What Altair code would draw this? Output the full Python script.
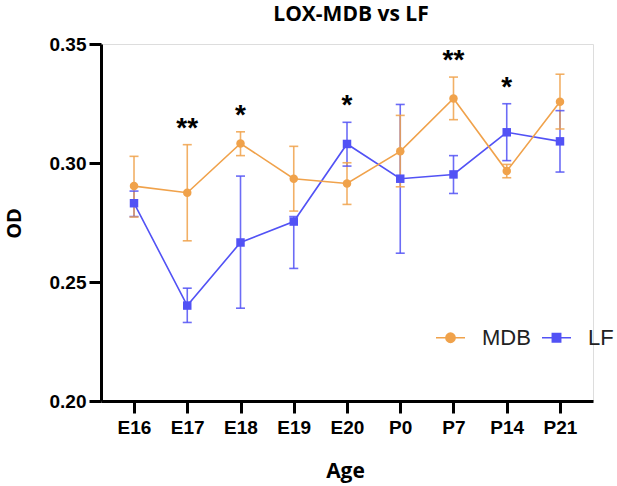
import altair as alt
import pandas as pd

ages = ["E16", "E17", "E18", "E19", "E20", "P0", "P7", "P14", "P21"]
mdb_mean = [0.2903, 0.2875, 0.3082, 0.2934, 0.2914, 0.3049, 0.3271, 0.2966, 0.3257]
mdb_upper = [0.3028, 0.3077, 0.3131, 0.3070, 0.3001, 0.3200, 0.3361, 0.2994, 0.3373]
mdb_lower = [0.2773, 0.2673, 0.3031, 0.2798, 0.2826, 0.2900, 0.3182, 0.2938, 0.3143]
lf_mean = [0.2831, 0.2401, 0.2666, 0.2754, 0.3080, 0.2934, 0.2952, 0.3129, 0.3091]
lf_upper = [0.2882, 0.2474, 0.2945, 0.2775, 0.3171, 0.3246, 0.3031, 0.3249, 0.3220]
lf_lower = [0.2775, 0.2330, 0.2390, 0.2557, 0.2987, 0.2621, 0.2872, 0.3010, 0.2962]

sig_ages = ["E17", "E18", "E20", "P7", "P14"]
sig_labels = ["**", "*", "*", "**", "*"]
sig_y = [0.3169, 0.3221, 0.3266, 0.3454, 0.3342]

series = ["MDB", "LF"]
ORANGE = "#F0A24B"
BLUE = "#5252F5"

rows = []
for s, m, u, l in [("LF", lf_mean, lf_upper, lf_lower), ("MDB", mdb_mean, mdb_upper, mdb_lower)]:
    for a, mv, uv, lv in zip(ages, m, u, l):
        rows.append({"age": a, "series": s, "mean": mv, "upper": uv, "lower": lv})
df = pd.DataFrame(rows)
sig_df = pd.DataFrame({"age": sig_ages, "label": sig_labels, "y": sig_y})

xscale = alt.Scale(type="point", domain=ages, padding=0.62)
yscale = alt.Scale(domain=[0.2, 0.35], nice=False, zero=False)
# colour scale for the data marks (domain order differs from the legend scales)
cscale = alt.Scale(domain=["LF", "MDB"], range=[BLUE, ORANGE])

MDB_PATH = "M-1,0L1,0M-0.32,0A0.32,0.32,0,1,0,0.32,0A0.32,0.32,0,1,0,-0.32,0Z"
LF_PATH = "M-1,0L1,0M-0.29,-0.29L0.29,-0.29L0.29,0.29L-0.29,0.29Z"

legend = alt.Legend(
    title=None,
    orient="none",
    direction="horizontal",
    legendX=334,
    legendY=278,
    symbolSize=841,
    symbolStrokeWidth=1.5,
    labelFont="Liberation Sans",
    labelFontSize=22,
    labelColor="#222222",
    labelOffset=16,
    columnPadding=8,
    padding=0,
)

x_enc = alt.X(
    "age:N",
    scale=xscale,
    sort=ages,
    axis=alt.Axis(
        title="Age",
        labelAngle=0,
        labelFont="Liberation Sans",
        labelFontWeight="bold",
        labelFontSize=19,
        labelColor="black",
        labelPadding=5,
        tickSize=12,
        tickWidth=3,
        tickColor="black",
        domainColor="black",
        domainWidth=3,
        titleFont="Open Sans",
        titleFontWeight="bold",
        titleFontSize=21,
        titleColor="black",
        titleBaseline="alphabetic",
        titleX=244,
        titleY=76,
        grid=False,
    ),
)
y_axis = alt.Axis(
    title="OD",
    values=[0.20, 0.25, 0.30, 0.35],
    format=".2f",
    labelFont="Liberation Sans",
    labelFontWeight="bold",
    labelFontSize=19,
    labelColor="black",
    labelPadding=3,
    tickSize=12,
    tickWidth=3,
    tickColor="black",
    domainColor="black",
    domainWidth=3,
    titleFont="Open Sans",
    titleFontWeight="bold",
    titleFontSize=20,
    titleColor="black",
    titleAngle=-90,
    titleBaseline="alphabetic",
    titleAlign="center",
    titleX=-81,
    titleY=179,
    grid=False,
)

base = alt.Chart(df)
color_enc = alt.Color("series:N", scale=cscale, legend=None)

lines = base.mark_line(strokeWidth=1.6).encode(
    x=x_enc,
    y=alt.Y("mean:Q", scale=yscale, axis=y_axis),
    color=color_enc,
    detail="series:N",
)
rules = base.mark_rule(strokeWidth=1.6, opacity=0.85).encode(
    x=alt.X("age:N", scale=xscale, sort=ages),
    y=alt.Y("lower:Q", scale=yscale),
    y2="upper:Q",
    color=color_enc,
)
cap_up = base.mark_tick(thickness=1.6, size=9, opacity=0.85, orient="horizontal").encode(
    x=alt.X("age:N", scale=xscale, sort=ages),
    y=alt.Y("upper:Q", scale=yscale),
    color=color_enc,
)
cap_lo = base.mark_tick(thickness=1.6, size=9, opacity=0.85, orient="horizontal").encode(
    x=alt.X("age:N", scale=xscale, sort=ages),
    y=alt.Y("lower:Q", scale=yscale),
    color=color_enc,
)
points = base.mark_point(filled=True, opacity=1, size=72).encode(
    x=alt.X("age:N", scale=xscale, sort=ages),
    y=alt.Y("mean:Q", scale=yscale),
    color=color_enc,
    shape=alt.condition(alt.datum.series == "MDB", alt.value("circle"), alt.value("square")),
)
legend_layer = base.transform_filter("false").mark_point(filled=True, opacity=1, strokeWidth=1.5).encode(
    x=alt.X("age:N", scale=xscale, sort=ages),
    y=alt.Y("mean:Q", scale=yscale),
    fill=alt.Fill("series:N", scale=alt.Scale(domain=series, range=[ORANGE, BLUE]), legend=legend),
    stroke=alt.Stroke("series:N", scale=alt.Scale(domain=series, range=[ORANGE, BLUE]), legend=legend),
    shape=alt.Shape("series:N", scale=alt.Scale(domain=series, range=[MDB_PATH, LF_PATH]), legend=legend),
)
stars = alt.Chart(sig_df).mark_text(
    font="Liberation Sans", fontWeight="bold", fontSize=28, baseline="middle", dy=6, color="black"
).encode(
    x=alt.X("age:N", scale=xscale, sort=ages),
    y=alt.Y("y:Q", scale=yscale),
    text="label:N",
)

chart = (
    alt.layer(lines, rules, cap_up, cap_lo, points, legend_layer, stars)
    .properties(
        width=492,
        height=357,
        autosize=alt.AutoSizeParams(type="none"),
        padding={"left": 101, "top": 44, "right": 24, "bottom": 85},
        title=alt.TitleParams(
            "LOX-MDB vs LF",
            font="Open Sans",
            fontWeight="bold",
            fontSize=21,
            color="black",
            anchor="middle",
            offset=10,
            dx=4,
        ),
    )
    .configure_view(stroke=None)
    .configure(background="white")
)

chart.save("out.html", embed_options={"renderer": "svg", "actions": False})
